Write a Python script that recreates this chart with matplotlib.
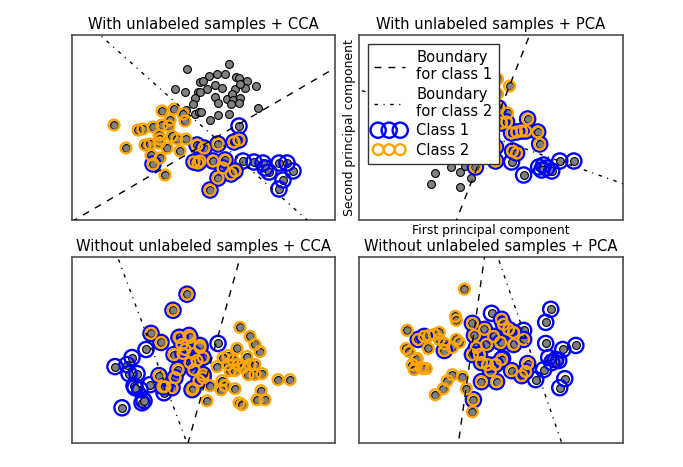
import matplotlib
matplotlib.use("Agg")
import matplotlib.pyplot as plt
from matplotlib.lines import Line2D
import numpy as np

# points read off the picture, panel frame: x 0..263, y 0..185 (y measured downwards)
# top-left: with unlabeled samples + CCA
a_unlab = [(115,34),(103,54),(113,57),(128,47),(126,57),(123,63),(121,69),(114,75),(123,79),(127,77),
           (157,29),(137,41),(145,39),(153,39),(164,42),(167,43),(175,46),(184,51),(131,46),(135,54),
           (143,50),(150,53),(163,54),(173,53),(168,49),(143,62),(146,68),(155,64),(160,59),(161,65),
           (168,63),(167,68),(159,69),(186,73),(146,80),(157,79),(138,85),(129,77),(128,57)]
a_c1 = [(167,91),(171,126),(182,127),(191,128),(193,133),(197,137),(207,128),(215,128),(221,136),
        (211,145),(207,154)]
a_c2 = [(42,90),(90,76),(102,74),(98,85),(111,79),(113,86),(66,95),(71,94),(81,92),(90,90),(97,91),
        (87,100),(100,101),(105,104),(114,104),(88,104),(73,110),(78,109),(87,108),(95,113),(108,116),
        (54,113),(79,120),(88,123),(93,140)]
a_both = [(81,129),(125,110),(122,127),(126,128),(132,113),(128,126),(162,107),(167,105),(146,109),
          (141,126),(153,125),(151,133),(146,143),(159,139),(163,136),(138,155)]

# top-right: with unlabeled samples + PCA
b_unlab = [(76,138),(72,149),(101,137),(101,152),(92,132),(112,143),(106,131),(95,110),(110,120),
           (120,100),(125,115),(85,125)]
b_c1 = [(152,127),(164,140),(179,132),(184,130),(187,133),(192,136),(182,135),(200,126),(214,126)]
b_c2 = [(138,44),(150,51),(138,59),(148,78)]
b_both = [(139,73),(142,88),(147,87),(168,84),(152,98),(157,97),(162,96),(166,96),(178,97),(180,109),
          (136,112),(153,116),(157,118),(136,126),(116,132),(125,70),(130,95)]

# bottom-left: without unlabeled samples + CCA
c_c1 = [(74,92),(43,109),(55,107),(60,100),(57,116),(65,116),(62,128),(68,132),(78,127),(50,150),
        (70,145),(72,143),(92,135),(63,130),(146,86)]
c_c2 = [(168,70),(178,79),(183,87),(188,94),(165,91),(156,98),(151,100),(145,109),(161,102),(166,107),
        (175,99),(178,107),(183,107),(156,107),(158,113),(163,113),(171,110),(176,117),(183,117),
        (190,116),(206,122),(218,122),(138,128),(150,123),(153,128),(149,132),(163,131),(135,143),
        (167,145),(170,147),(189,133),(185,142),(193,142)]
c_both = [(115,37),(101,53),(79,76),(89,85),(107,80),(117,78),(110,87),(102,97),(87,118),(106,112),
          (103,120),(91,129),(100,130),(120,132),(122,112),(127,123),(128,90),(118,80),(108,80),
          (111,96),(121,96),(131,100),(125,103),(131,120),(121,131),(128,88),(131,117),(93,129),
          (113,92),(118,105)]

# bottom-right: without unlabeled samples + PCA
d_c1 = [(191,52),(186,65),(186,86),(216,88),(203,92),(189,100),(196,102),(199,103),(192,105),
        (184,112),(176,122),(205,121),(200,130),(164,73),(132,56),(143,101)]
d_c2 = [(105,32),(96,59),(97,63),(48,73),(69,91),(47,91),(50,94),(70,78),(75,77),(80,75),(80,82),
        (85,86),(93,90),(97,82),(100,85),(57,102),(53,107),(62,110),(67,111),(55,112),(93,117),
        (88,123),(84,131),(76,137),(103,119),(107,131),(113,154),(58,101),(64,111)]
d_both = [(59,82),(85,93),(114,142),(122,124),(113,66),(115,78),(125,72),(113,97),(120,97),(117,90),
          (127,87),(128,107),(122,105),(142,62),(144,67),(149,72),(154,75),(134,79),(141,85),(154,87),
          (164,82),(142,102),(136,107),(131,113),(152,113),(168,106),(166,114),(162,118),(137,124),
          (65,79)]

# boundaries: two points on each line (class 1 dashed, class 2 dash-dot)
a_bound1 = [(6,183),(263,33)];  a_bound2 = [(28,0),(235,185)]
b_bound1 = [(170,0),(97,185)];  b_bound2 = [(7,57),(258,147)]
c_bound1 = [(168,1),(116,185)]; c_bound2 = [(46,1),(115,185)]
d_bound1 = [(125,0),(99,185)];  d_bound2 = [(139,2),(202,185)]

titles = ["With unlabeled samples + CCA", "With unlabeled samples + PCA",
          "Without unlabeled samples + CCA", "Without unlabeled samples + PCA"]

plt.rcParams['lines.scale_dashes'] = False

TITLE_FS = 10.6
gray_s, c1_s, c2_s = 32, 120, 60
ring_lw = 1.7


def line_through(p, q):
    (x0, y0), (x1, y1) = p, q
    if abs(x1 - x0) > abs(y1 - y0):
        xx = np.array([-100, 400])
        yy = y0 + (y1 - y0) / (x1 - x0) * (xx - x0)
    else:
        yy = np.array([-100, 300])
        xx = x0 + (x1 - x0) / (y1 - y0) * (yy - y0)
    return xx, yy


def draw(ax, unlab, c1, c2, both, b1, b2, title):
    allp = unlab + c1 + c2 + both
    X = np.array(allp, dtype=float)
    n0 = len(unlab)
    lab1 = np.array([False] * n0 + [True] * len(c1) + [False] * len(c2) + [True] * len(both))
    lab2 = np.array([False] * n0 + [False] * len(c1) + [True] * len(c2) + [True] * len(both))
    ax.scatter(X[:, 0], X[:, 1], s=gray_s, c='gray', edgecolors='k', linewidths=0.8, zorder=2)
    ax.scatter(X[lab1, 0], X[lab1, 1], s=c1_s, edgecolors='b', facecolors='none',
               linewidths=ring_lw, zorder=3, label='Class 1')
    ax.scatter(X[lab2, 0], X[lab2, 1], s=c2_s, edgecolors='orange', facecolors='none',
               linewidths=ring_lw, zorder=4, label='Class 2')
    xx, yy = line_through(*b1)
    ax.plot(xx, yy, color='k', lw=1, dashes=(5, 5), zorder=5)
    xx, yy = line_through(*b2)
    ax.plot(xx, yy, color='k', lw=1, dashes=(2.5, 4, 0.8, 4), zorder=5)
    ax.set_xlim(0, 263)
    ax.set_ylim(185, 0)
    ax.set_xticks([])
    ax.set_yticks([])
    for sp in ax.spines.values():
        sp.set_color('0.3')
        sp.set_linewidth(1.2)
    ax.set_title(title, fontsize=TITLE_FS, pad=4)


fig = plt.figure(figsize=(6.83, 4.67), dpi=100)
W, H = 683, 467
boxes = [(72, 35, 335, 220), (359, 35, 623, 220), (72, 257, 335, 443), (359, 257, 623, 443)]
axes = [fig.add_axes([l / W, 1 - b / H, (r - l) / W, (b - t) / H]) for (l, t, r, b) in boxes]

draw(axes[0], a_unlab, a_c1, a_c2, a_both, a_bound1, a_bound2, titles[0])
draw(axes[1], b_unlab, b_c1, b_c2, b_both, b_bound1, b_bound2, titles[1])
draw(axes[2], [], c_c1, c_c2, c_both, c_bound1, c_bound2, titles[2])
draw(axes[3], [], d_c1, d_c2, d_both, d_bound1, d_bound2, titles[3])

axes[1].set_xlabel("First principal component", fontsize=8.9, labelpad=3)
axes[1].set_ylabel("Second principal component", fontsize=8.9, labelpad=2)

handles = [Line2D([], [], color='k', lw=1, dashes=(5, 5)),
           Line2D([], [], color='k', lw=1, dashes=(2.5, 4, 0.8, 4)),
           axes[1].collections[1], axes[1].collections[2]]
labels = ["Boundary\nfor class 1", "Boundary\nfor class 2", "Class 1", "Class 2"]
leg = axes[1].legend(handles, labels, loc='upper left', fontsize=10.6, scatterpoints=3,
                     scatteryoffsets=[0.5], fancybox=False, framealpha=1, edgecolor='0.2',
                     borderaxespad=0.6, handlelength=2.1, labelspacing=0.3, borderpad=0.4,
                     handletextpad=0.8)
leg.get_frame().set_linewidth(1.0)
leg.set_zorder(10)

fig.savefig("out.png", dpi=100)
